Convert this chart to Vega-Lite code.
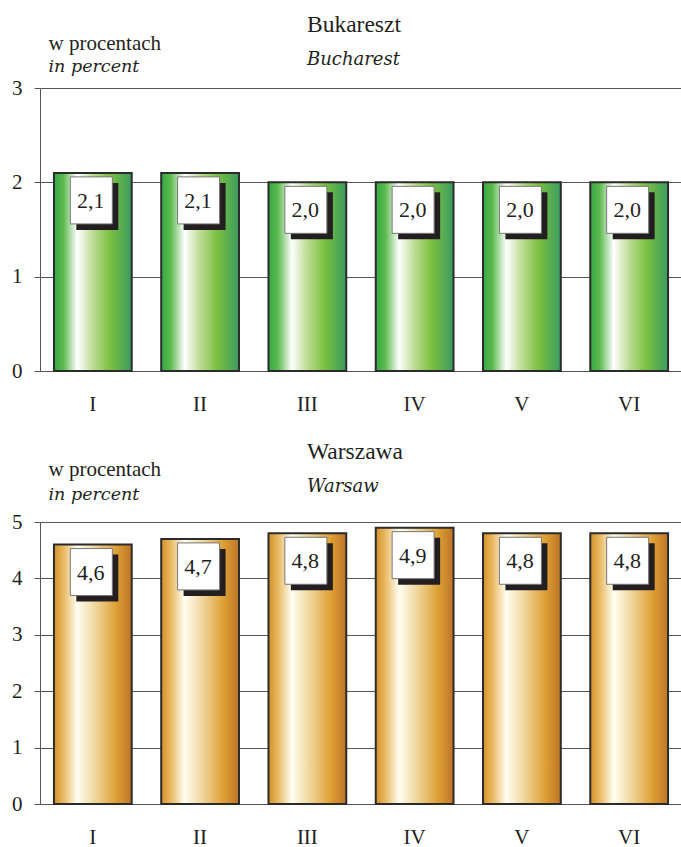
{
  "$schema": "https://vega.github.io/schema/vega-lite/v6.json",
  "background": "white",
  "padding": {"left": 11, "top": 12, "right": 0, "bottom": 0},
  "spacing": 25,
  "config": {
    "font": "Liberation Serif",
    "view": {"stroke": null},
    "locale": {"number": {"decimal": ",", "thousands": " ", "grouping": [3], "currency": ["", " zł"]}},
    "axis": {
      "labelFont": "Liberation Serif",
      "titleFont": "Liberation Serif",
      "labelColor": "#231f20",
      "titleColor": "#231f20",
      "labelFontSize": 21,
      "titleFontSize": 21,
      "titleFontWeight": "normal",
      "gridColor": "#555555",
      "gridWidth": 1,
      "gridOpacity": 1,
      "domainColor": "#555555",
      "domainWidth": 1,
      "tickColor": "#555555",
      "tickWidth": 1
    },
    "title": {
      "font": "Liberation Serif",
      "subtitleFont": "DejaVu Serif",
      "fontSize": 23.5,
      "subtitleFontSize": 18,
      "fontWeight": "normal",
      "subtitleFontStyle": "italic",
      "color": "#231f20",
      "subtitleColor": "#231f20",
      "anchor": "start",
      "frame": "group",
      "subtitlePadding": 15,
      "dx": 267
    }
  },
  "vconcat": [
    {
      "title": {"text": "Bukareszt", "subtitle": "Bucharest", "offset": -37},
      "width": 642,
      "height": 283,
      "data": {"values": [
        {"m": "I", "v": 2.1},
        {"m": "II", "v": 2.1},
        {"m": "III", "v": 2.0},
        {"m": "IV", "v": 2.0},
        {"m": "V", "v": 2.0},
        {"m": "VI", "v": 2.0}
      ]},
      "encoding": {
        "x": {"field": "m", "type": "ordinal", "sort": null,
          "scale": {"paddingInner": 0.275, "paddingOuter": 0.13},
          "axis": {"title": null, "labelAngle": 0, "ticks": false, "domain": false, "labelPadding": 22}}
      },
      "layer": [
        {
          "mark": {"type": "bar", "stroke": "#2b2b2b", "strokeWidth": 2,
            "color": {"gradient": "linear", "x1": 0, "x2": 1, "y1": 0, "y2": 0,
              "stops": [
                {"offset": 0, "color": "#35a845"},
                {"offset": 0.12, "color": "#5cb94e"},
                {"offset": 0.3, "color": "#ffffff"},
                {"offset": 0.5, "color": "#bddc94"},
                {"offset": 0.72, "color": "#7bc03f"},
                {"offset": 1, "color": "#3a9c60"}
              ]}},
          "encoding": {
            "y": {"field": "v", "type": "quantitative",
              "scale": {"domain": [0, 3], "nice": false},
              "axis": {"title": "w procentach", "titleAngle": 0, "titleAlign": "left", "titleBaseline": "alphabetic",
                "titleX": 8, "titleY": -39, "values": [0, 1, 2, 3], "format": "d", "tickSize": 6, "labelPadding": 12, "grid": true}}
          }
        },
        {
          "mark": {"type": "point", "shape": "M-16.5,10H25.5V57H-16.5Z", "size": 4, "filled": true, "fill": "#231f20", "strokeWidth": 0, "opacity": 1},
          "encoding": {
            "y": {"field": "v", "type": "quantitative",
              "axis": {"orient": "left", "title": "in percent", "titleFont": "DejaVu Serif", "titleFontSize": 17.5, "titleFontStyle": "italic", "titleAngle": 0, "titleAlign": "left", "titleBaseline": "alphabetic",
                "titleX": 8, "titleY": -17, "labels": false, "ticks": false, "domain": false, "grid": false}}
          }
        },
        {
          "mark": {"type": "point", "shape": "M-22.5,4H19.5V51H-22.5Z", "size": 4, "filled": true, "fill": "white", "stroke": "#777777", "strokeWidth": 1, "opacity": 1},
          "encoding": {"y": {"field": "v", "type": "quantitative", "axis": null}}
        },
        {
          "mark": {"type": "text", "baseline": "middle", "dy": 28, "dx": -2, "fontSize": 22, "color": "#231f20", "font": "Liberation Serif"},
          "encoding": {
            "y": {"field": "v", "type": "quantitative", "axis": null},
            "text": {"field": "v", "type": "quantitative", "format": ".1f"}
          }
        }
      ],
      "resolve": {"axis": {"y": "independent"}}
    },
    {
      "title": {"text": "Warszawa", "subtitle": "Warsaw", "offset": -38},
      "width": 642,
      "height": 282,
      "data": {"values": [
        {"m": "I", "v": 4.6},
        {"m": "II", "v": 4.7},
        {"m": "III", "v": 4.8},
        {"m": "IV", "v": 4.9},
        {"m": "V", "v": 4.8},
        {"m": "VI", "v": 4.8}
      ]},
      "encoding": {
        "x": {"field": "m", "type": "ordinal", "sort": null,
          "scale": {"paddingInner": 0.275, "paddingOuter": 0.13},
          "axis": {"title": null, "labelAngle": 0, "ticks": false, "domain": false, "labelPadding": 22}}
      },
      "layer": [
        {
          "mark": {"type": "bar", "stroke": "#2b2b2b", "strokeWidth": 2,
            "color": {"gradient": "linear", "x1": 0, "x2": 1, "y1": 0, "y2": 0,
              "stops": [
                {"offset": 0, "color": "#d4902a"},
                {"offset": 0.12, "color": "#e8b860"},
                {"offset": 0.3, "color": "#fffef2"},
                {"offset": 0.5, "color": "#f2dca8"},
                {"offset": 0.8, "color": "#dea034"},
                {"offset": 1, "color": "#be7428"}
              ]}},
          "encoding": {
            "y": {"field": "v", "type": "quantitative",
              "scale": {"domain": [0, 5], "nice": false},
              "axis": {"title": "w procentach", "titleAngle": 0, "titleAlign": "left", "titleBaseline": "alphabetic",
                "titleX": 8, "titleY": -47, "values": [0, 1, 2, 3, 4, 5], "format": "d", "tickSize": 6, "labelPadding": 12, "grid": true}}
          }
        },
        {
          "mark": {"type": "point", "shape": "M-16.5,10H25.5V57H-16.5Z", "size": 4, "filled": true, "fill": "#231f20", "strokeWidth": 0, "opacity": 1},
          "encoding": {
            "y": {"field": "v", "type": "quantitative",
              "axis": {"orient": "left", "title": "in percent", "titleFont": "DejaVu Serif", "titleFontSize": 17.5, "titleFontStyle": "italic", "titleAngle": 0, "titleAlign": "left", "titleBaseline": "alphabetic",
                "titleX": 8, "titleY": -23, "labels": false, "ticks": false, "domain": false, "grid": false}}
          }
        },
        {
          "mark": {"type": "point", "shape": "M-22.5,4H19.5V51H-22.5Z", "size": 4, "filled": true, "fill": "white", "stroke": "#777777", "strokeWidth": 1, "opacity": 1},
          "encoding": {"y": {"field": "v", "type": "quantitative", "axis": null}}
        },
        {
          "mark": {"type": "text", "baseline": "middle", "dy": 28, "dx": -2, "fontSize": 22, "color": "#231f20", "font": "Liberation Serif"},
          "encoding": {
            "y": {"field": "v", "type": "quantitative", "axis": null},
            "text": {"field": "v", "type": "quantitative", "format": ".1f"}
          }
        }
      ],
      "resolve": {"axis": {"y": "independent"}}
    }
  ]
}
